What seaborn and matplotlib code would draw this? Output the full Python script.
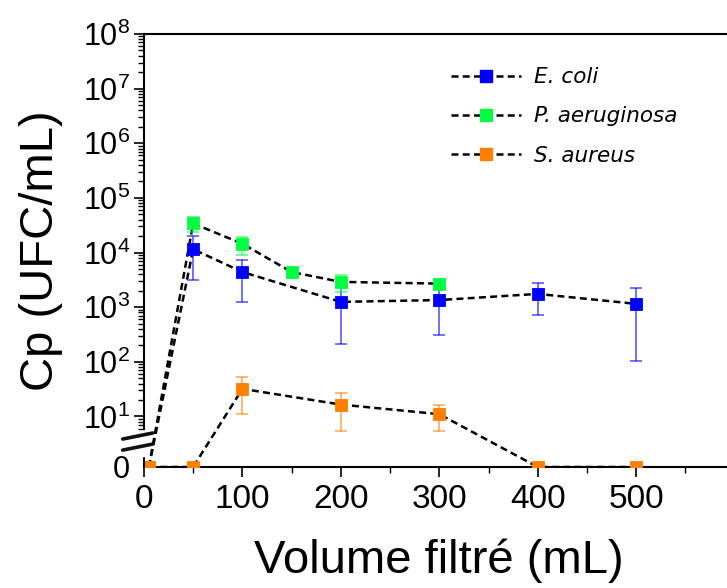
import matplotlib
matplotlib.use("Agg")
import matplotlib.pyplot as plt
import numpy as np
import pandas as pd
import seaborn as sns
from matplotlib.lines import Line2D
from matplotlib.ticker import FixedLocator, NullFormatter

# values (0 = nothing detected, drawn on the "0" level)
ecoli_x = [5, 50, 100, 200, 300, 400, 500]
ecoli_y = [0, 1.15e4, 4.4e3, 1.25e3, 1.35e3, 1.75e3, 1.15e3]
ecoli_lo = [0, 3.1e3, 1.25e3, 2.1e2, 3.1e2, 7.3e2, 1.05e2]
ecoli_hi = [0, 2.0e4, 7.4e3, 2.3e3, 2.4e3, 2.8e3, 2.2e3]

paer_x = [5, 50, 100, 150, 200, 300]
paer_y = [0, 3.4e4, 1.45e4, 4.4e3, 2.9e3, 2.7e3]
paer_lo = [0, 2.4e4, 9.2e3, 4.4e3, 1.9e3, 2.3e3]
paer_hi = [0, 4.4e4, 1.9e4, 4.4e3, 3.85e3, 3.1e3]

saur_x = [5, 50, 100, 200, 300, 400, 500]
saur_y = [0, 0, 32, 16.5, 11, 0, 0]
saur_lo = [0, 0, 11, 5.5, 5.5, 0, 0]
saur_hi = [0, 0, 52, 27, 16.5, 0, 0]

species = ["E. coli", "P. aeruginosa", "S. aureus"]
colors = ["#0000ff", "#00ff40", "#ff7f00"]
x_ticks = [0, 100, 200, 300, 400, 500]
decades = [1, 2, 3, 4, 5, 6, 7, 8]

ZERO_LEVEL = 10 ** 0.075  # where "0" sits on the broken log axis
DASH = (0, (2.8, 1.7))

sns.set_style("ticks")
plt.rcParams["font.family"] = ["Liberation Sans", "DejaVu Sans"]
plt.rcParams["mathtext.default"] = "regular"
for key in ["text.color", "axes.labelcolor", "xtick.color", "ytick.color"]:
    plt.rcParams[key] = "black"

series = [
    (ecoli_x, ecoli_y, ecoli_lo, ecoli_hi),
    (paer_x, paer_y, paer_lo, paer_hi),
    (saur_x, saur_y, saur_lo, saur_hi),
]

fig = plt.figure(figsize=(7.27, 5.88), dpi=100)
ax = fig.add_axes([0.198, 0.2058, 0.8125, 0.7364])
ax.set_yscale("log")

for name, color, (xs, ys, lo, hi) in zip(species, colors, series):
    df = pd.DataFrame({"volume": xs, "cp": ys, "lo": lo, "hi": hi})
    df["cp_plot"] = np.where(df["cp"] == 0, ZERO_LEVEL, df["cp"])

    sns.lineplot(data=df, x="volume", y="cp_plot", ax=ax, color="black",
                 lw=1.8, linestyle=DASH, zorder=2, legend=False)

    err = df[(df["cp"] > 0) & (df["hi"] > df["lo"])]
    ax.errorbar(err["volume"], err["cp"],
                yerr=[err["cp"] - err["lo"], err["hi"] - err["cp"]],
                fmt="none", ecolor=color, alpha=0.6, elinewidth=1.3,
                capsize=4, capthick=1.3, zorder=2.5)

    sns.scatterplot(data=df, x="volume", y="cp_plot", ax=ax, marker="s",
                    s=72, color=color, edgecolor=color, linewidth=0.6,
                    zorder=3, legend=False)

ax.set_xlim(0, 600)
ax.set_ylim(ZERO_LEVEL, 1e8)

ax.xaxis.set_major_locator(FixedLocator(x_ticks))
ax.xaxis.set_minor_locator(FixedLocator([50, 150, 250, 350, 450, 550]))
ax.set_xticklabels([str(t) for t in x_ticks])

major_y = [ZERO_LEVEL] + [10.0 ** d for d in decades]
ax.yaxis.set_major_locator(FixedLocator(major_y))
ax.set_yticklabels(["0"] + [f"$10^{{{d}}}$" for d in decades])
minor_y = [k for k in range(6, 10)] + [k * 10.0 ** d for d in range(1, 8) for k in range(2, 10)]
ax.yaxis.set_minor_locator(FixedLocator(minor_y))
ax.yaxis.set_minor_formatter(NullFormatter())
ax.yaxis.get_major_ticks()[0].tick1line.set_visible(False)

ax.tick_params(axis="both", which="major", direction="out", length=7, width=1.2,
               color="black")
ax.tick_params(axis="both", which="minor", direction="out", length=4, width=1.0,
               color="black")
ax.tick_params(axis="x", which="major", labelsize=24, pad=5)
ax.tick_params(axis="y", which="major", labelsize=22, pad=3)

for side in ["left", "bottom", "top"]:
    ax.spines[side].set_color("black")
    ax.spines[side].set_linewidth(1.5)
ax.spines["right"].set_visible(False)

# broken y axis: gap in the spine with two slanted marks
ax.spines["left"].set_bounds(6, 1e8)
ax.plot([0, 0], [ZERO_LEVEL, 1.7], transform=ax.get_yaxis_transform(),
        color="black", lw=1.5, clip_on=False, zorder=4)
for y0 in (0.039, 0.0645):
    ax.plot([-0.036, 0.015], [y0, y0 + 0.014], transform=ax.transAxes,
            color="#111111", lw=2.6, clip_on=False, zorder=4)

ax.set_xlabel("Volume filtré (mL)", fontsize=34, labelpad=17)
ax.set_ylabel("Cp (UFC/mL)", fontsize=34, labelpad=14)

handles = [
    Line2D([0], [0], color="black", lw=1.8, linestyle=DASH, marker="s",
           markersize=8, markerfacecolor=c, markeredgecolor=c)
    for c in colors
]
ax.legend(handles, species, loc="upper left", bbox_to_anchor=(0.52, 0.923),
          frameon=False, borderpad=0, borderaxespad=0, handlelength=3.25,
          handletextpad=0.6, labelspacing=0.89,
          prop={"family": "DejaVu Sans", "style": "italic", "size": 15.5})

fig.savefig("out.png", dpi=100)
